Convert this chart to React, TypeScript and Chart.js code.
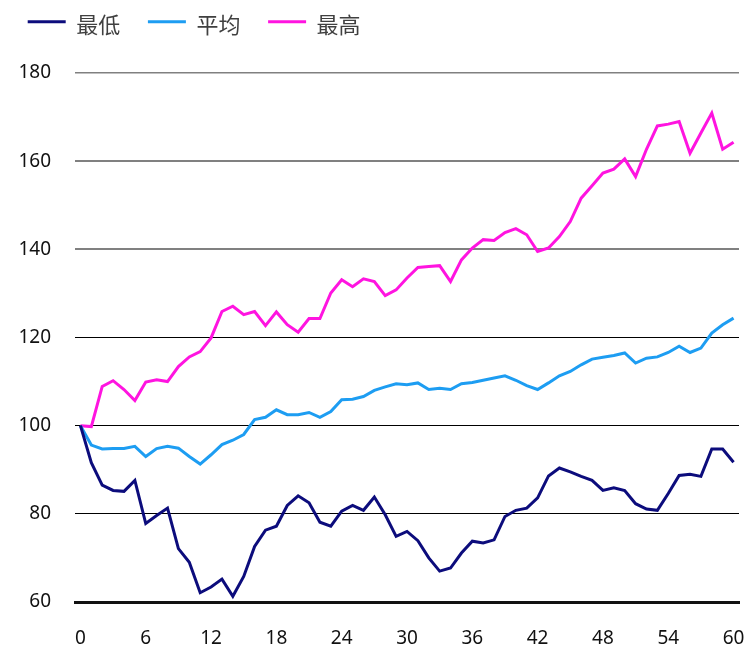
import React, { useEffect, useRef } from "react";
import { Chart, registerables } from "chart.js";

Chart.register(...registerables);

const periods: number[] = Array.from({ length: 61 }, (_, i) => i);

const lowValues: number[] = [
  100, 91.6, 86.5, 85.3, 85.1, 87.6, 77.8, 79.6, 81.3, 72.1,
  69.0, 62.1, 63.4, 65.2, 61.3, 65.8, 72.6, 76.3, 77.2, 81.9,
  84.1, 82.5, 78.1, 77.2, 80.6, 81.9, 80.8, 83.8, 79.8, 74.9,
  76.0, 73.9, 70.0, 67.0, 67.7, 71.1, 73.8, 73.4, 74.1, 79.4,
  80.8, 81.3, 83.6, 88.6, 90.4, 89.5, 88.5, 87.6, 85.3, 85.9,
  85.3, 82.3, 81.1, 80.8, 84.6, 88.7, 89.0, 88.5, 94.7, 94.7,
  91.7,
];

const avgValues: number[] = [
  100, 95.6, 94.7, 94.8, 94.8, 95.3, 93.0, 94.8, 95.3, 94.9,
  93.0, 91.3, 93.4, 95.7, 96.7, 98.0, 101.4, 101.9, 103.6, 102.5,
  102.5, 103.0, 101.9, 103.2, 105.9, 106.0, 106.6, 108.0, 108.8, 109.5,
  109.3, 109.7, 108.2, 108.5, 108.2, 109.5, 109.8, 110.3, 110.8, 111.3,
  110.3, 109.1, 108.2, 109.7, 111.3, 112.3, 113.8, 115.1, 115.5, 115.9,
  116.5, 114.2, 115.3, 115.6, 116.6, 118.0, 116.6, 117.6, 121.0, 122.9,
  124.4,
];

const highValues: number[] = [
  100, 99.8, 108.9, 110.2, 108.2, 105.7, 109.9, 110.4, 110.0, 113.4,
  115.6, 116.8, 119.9, 125.9, 127.1, 125.2, 125.9, 122.7, 125.8, 122.9,
  121.2, 124.3, 124.3, 130.1, 133.1, 131.5, 133.3, 132.7, 129.5, 130.8,
  133.5, 135.9, 136.1, 136.3, 132.7, 137.6, 140.3, 142.2, 142.0, 143.8,
  144.7, 143.3, 139.5, 140.3, 142.9, 146.3, 151.6, 154.4, 157.3, 158.2,
  160.5, 156.5, 162.7, 168.0, 168.4, 169.0, 161.8, 166.4, 170.9, 162.7,
  164.3,
];

const seriesLabels: string[] = ["最低", "平均", "最高"];
const seriesColors: string[] = ["#0c0c7c", "#1d9df2", "#ff14e0"];
const xTickValues: number[] = [0, 6, 12, 18, 24, 30, 36, 42, 48, 54, 60];
const yTickValues: number[] = [60, 80, 100, 120, 140, 160, 180];

const legendPlugin = {
  id: "customLegend",
  afterDraw(chart: any) {
    const ctx = chart.ctx as CanvasRenderingContext2D;
    ctx.save();
    ctx.font = '22px "Noto Sans CJK SC"';
    ctx.textBaseline = "middle";
    ctx.textAlign = "left";
    let x = 27.7;
    chart.data.datasets.forEach((ds: any) => {
      ctx.strokeStyle = ds.borderColor;
      ctx.lineWidth = 3;
      ctx.beginPath();
      ctx.moveTo(x, 21.7);
      ctx.lineTo(x + 38, 21.7);
      ctx.stroke();
      x += 38 + 10.5;
      ctx.fillStyle = "#404040";
      ctx.fillText(ds.label, x, 25);
      x += ctx.measureText(ds.label).width + 27.7;
    });
    ctx.restore();
  },
};

export default function App() {
  const canvasRef = useRef<HTMLCanvasElement | null>(null);

  useEffect(() => {
    document.body.style.margin = "0";
    const canvas = canvasRef.current;
    if (!canvas) return;
    const values = [lowValues, avgValues, highValues];
    const chart = new Chart(canvas, {
      type: "line",
      data: {
        datasets: values.map((arr, k) => ({
          label: seriesLabels[k],
          data: arr.map((v, i) => ({ x: periods[i], y: v })),
          borderColor: seriesColors[k],
          backgroundColor: seriesColors[k],
          borderWidth: 3,
          pointRadius: 0,
          tension: 0,
          fill: false,
        })),
      },
      options: {
        responsive: false,
        animation: false,
        layout: { padding: { top: 73, right: 8, left: 0, bottom: 0 } },
        plugins: {
          legend: { display: false },
          tooltip: { enabled: false },
        },
        scales: {
          x: {
            type: "linear",
            min: -0.5,
            max: 60.5,
            afterBuildTicks: (axis: any) => {
              axis.ticks = xTickValues.map((v) => ({ value: v }));
            },
            afterFit: (axis: any) => {
              axis.height = 46;
              axis.paddingLeft = 0;
              axis.paddingRight = 0;
            },
            grid: { display: false, drawTicks: false },
            border: { display: true, width: 3, color: "#111111" },
            ticks: {
              padding: 25,
              autoSkip: false,
              maxRotation: 0,
              color: "#111111",
              font: { family: '"Noto Sans", sans-serif', size: 19 },
            },
          },
          y: {
            min: 60,
            max: 180,
            afterBuildTicks: (axis: any) => {
              axis.ticks = yTickValues.map((v) => ({ value: v }));
            },
            afterFit: (axis: any) => {
              axis.width = 75;
              axis.paddingTop = 0;
              axis.paddingBottom = 0;
            },
            border: { display: false },
            grid: {
              drawTicks: false,
              color: (c: any) => {
                const v = c.tick ? c.tick.value : 0;
                if (v === 60) return "rgba(0,0,0,0)";
                if (v >= 140) return "#808080";
                return "#000000";
              },
              lineWidth: (c: any) => {
                const v = c.tick ? c.tick.value : 0;
                if (v === 180) return 1.5;
                if (v >= 140) return 2;
                return 1;
              },
            },
            ticks: {
              padding: 24,
              color: "#111111",
              font: { family: '"Noto Sans", sans-serif', size: 19 },
            },
          },
        },
      },
      plugins: [legendPlugin],
    });
    return () => chart.destroy();
  }, []);

  return (
    <div style={{ width: 747, height: 648 }}>
      <canvas ref={canvasRef} width={747} height={648} />
    </div>
  );
}
